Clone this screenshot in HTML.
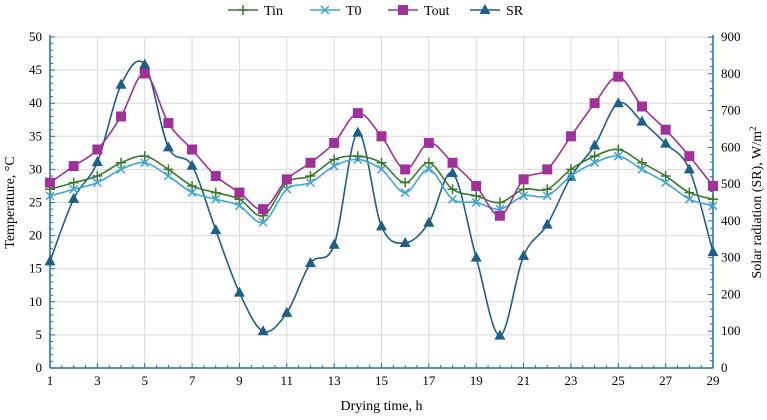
<!DOCTYPE html>
<html><head><meta charset="utf-8"><style>
body{margin:0;background:#fff;font-family:"Liberation Serif",serif}
</style></head><body>
<svg id="c" width="767" height="415" xmlns="http://www.w3.org/2000/svg"></svg>
<script>
const hours=[1,2,3,4,5,6,7,8,9,10,11,12,13,14,15,16,17,18,19,20,21,22,23,24,25,26,27,28,29];
const tinValues=[27,28,29,31,32,30,27.5,26.5,25.5,23,28,29,31.5,32,31,28,31,27,26,25,27,27,30,32,33,31,29,26.5,25.5];
const t0Values=[26,27,28,30,31,29,26.5,25.5,24.5,22,27,28,30.5,31.5,30,26.5,30,25.5,25,24,26,26,29,31,32,30,28,25.5,24.5];
const toutValues=[28,30.5,33,38,44.5,37,33,29,26.5,24,28.5,31,34,38.5,35,30,34,31,27.5,23,28.5,30,35,40,44,39.5,36,32,27.5];
const srValues=[290,460,560,770,825,600,550,375,205,100,150,285,335,640,385,340,395,530,300,88,305,390,520,605,720,670,610,540,315];
const leftTicks=[0,5,10,15,20,25,30,35,40,45,50];
const rightTicks=[0,100,200,300,400,500,600,700,800,900];
const xTicks=[1,3,5,7,9,11,13,15,17,19,21,23,25,27,29];

const L=50,R=713,T=37,B=368;
const NS="http://www.w3.org/2000/svg";
const svg=document.getElementById('c');
const x=h=>L+(h-1)*(R-L)/28;
const yL=v=>B-v*(B-T)/50;
const yR=v=>B-v*(B-T)/900;
function el(tag,a,parent){const e=document.createElementNS(NS,tag);for(const k in a)e.setAttribute(k,a[k]);(parent||svg).appendChild(e);return e;}
// grid
const grid=el('g',{});


leftTicks.forEach(v=>el('line',{x1:L,x2:R,y1:yL(v),y2:yL(v),stroke:'#d9d9d9','stroke-width':1},grid));
xTicks.forEach(h=>el('line',{x1:x(h),x2:x(h),y1:T,y2:B,stroke:'#d9d9d9','stroke-width':1},grid));
// axes
const ax=el('g',{stroke:'#1f6fa8','stroke-width':1.5});


el('line',{x1:L,x2:L,y1:T-2,y2:B},ax);el('line',{x1:R,x2:R,y1:T-2,y2:B},ax);el('line',{x1:L,x2:R,y1:B,y2:B},ax);
for(let v=0;v<=50;v+=1)el('line',{x1:L,x2:L+(v%5?3:5),y1:yL(v),y2:yL(v),'stroke-width':1},ax);
for(let v=0;v<=900;v+=20)el('line',{x1:R,x2:R-(v%100?3:5),y1:yR(v),y2:yR(v),'stroke-width':1},ax);
for(let h=1;h<=29;h+=0.5)el('line',{x1:x(h),x2:x(h),y1:B,y2:B-(h%2==1?5:3),'stroke-width':1},ax);
function txt(s,a,name){const t=el('text',Object.assign({'font-size':13,fill:'#000'},a));t.textContent=s;return t;}
leftTicks.forEach(v=>txt(v,{x:L-8,y:yL(v)+4,'text-anchor':'end'},'left-tick-label'));
rightTicks.forEach(v=>txt(v,{x:R+8,y:yR(v)+4},'right-tick-label'));
xTicks.forEach(h=>txt(h,{x:x(h),y:B+17,'text-anchor':'middle'},'x-tick-label'));
txt('Drying time, h',{x:(L+R)/2,y:410,'text-anchor':'middle','font-size':14},'x-axis-title');
txt('Temperature, °C',{x:0,y:0,'text-anchor':'middle','font-size':14,transform:`translate(14,${(T+B)/2}) rotate(-90)`},'y-axis-title');
const rt=txt('',{x:0,y:0,'text-anchor':'middle','font-size':14,transform:`translate(761,${(T+B)/2}) rotate(-90)`},'y2-axis-title');
rt.innerHTML='Solar radiation (SR), W/m<tspan dy="-5" font-size="9">2</tspan>';
function path(pts){let d=`M${pts[0][0]},${pts[0][1]}`;for(let i=0;i<pts.length-1;i++){const p0=pts[i-1]||pts[i],p1=pts[i],p2=pts[i+1],p3=pts[i+2]||p2;d+=` C${p1[0]+(p2[0]-p0[0])/6},${p1[1]+(p2[1]-p0[1])/6} ${p2[0]-(p3[0]-p1[0])/6},${p2[1]-(p3[1]-p1[1])/6} ${p2[0]},${p2[1]}`;}return d;}
function marker(g,type,cx,cy,col){
 if(type=='plus'){el('path',{d:`M${cx-5},${cy}H${cx+5}M${cx},${cy-5}V${cx+0*0+cy+5}`.replace(`V${cx+0*0+cy+5}`,`V${cy+5}`),stroke:col,'stroke-width':1.5},g);}
 else if(type=='x'){el('path',{d:`M${cx-4},${cy-4}L${cx+4},${cy+4}M${cx-4},${cy+4}L${cx+4},${cy-4}`,stroke:col,'stroke-width':1.5},g);}
 else if(type=='sq'){el('rect',{x:cx-5,y:cy-5,width:10,height:10,fill:col},g);}
 else {el('path',{d:`M${cx},${cy-6}L${cx+5.5},${cy+4}L${cx-5.5},${cy+4}Z`,fill:col},g);}
}
function series(vals,yf,col,type,name){
 const g=el('g',{});
 
 
 const pts=vals.map((v,i)=>[x(hours[i]),yf(v)]);
 el('path',{d:path(pts),fill:'none',stroke:col,'stroke-width':1.6},g);
 pts.forEach(p=>marker(g,type,p[0],p[1],col));
}
series(srValues,yR,'#1d5f86','tri','series-sr');
series(t0Values,yL,'#3ea6d8','x','series-t0');
series(tinValues,yL,'#3a7a2a','plus','series-tin');
series(toutValues,yL,'#a0309a','sq','series-tout');
// legend
const leg=[['Tin','#3a7a2a','plus',228],['T0','#3ea6d8','x',310],['Tout','#a0309a','sq',388],['SR','#1d5f86','tri',470]];
leg.forEach(([n,c,t,lx])=>{const g=el('g',{});
 el('line',{x1:lx,x2:lx+30,y1:10,y2:10,stroke:c,'stroke-width':1.6},g);marker(g,t,lx+15,10,c);
 const tt=el('text',{x:lx+36,y:15,'font-size':14,fill:'#000'},g);tt.textContent=n;});
</script>
</body></html>
